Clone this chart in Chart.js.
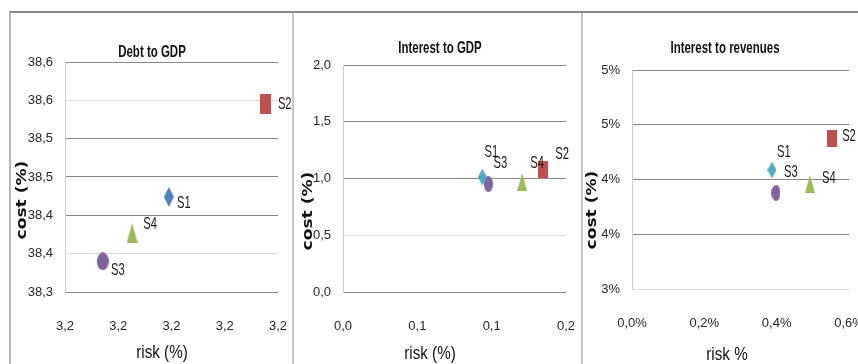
<!DOCTYPE html>
<html>
<head>
<meta charset="utf-8">
<script src="https://cdn.jsdelivr.net/npm/chart.js@4.4.1/dist/chart.umd.min.js"></script>
<style>
html, body { margin: 0; padding: 0; background: #fff; width: 858px; height: 364px; overflow: hidden; }
#frame { position: absolute; left: 9px; top: 11px; width: 900px; height: 400px; border-top: 2px solid #8a8a8a; border-left: 2px solid #b8b8b8; }
.sep { position: absolute; top: 13px; width: 2px; height: 360px; background: #c6c6c6; }
canvas { position: absolute; }
</style>
</head>
<body>
<div id="frame"></div>
<div class="sep" style="left:292px"></div>
<div class="sep" style="left:581px"></div>
<canvas id="debtChart" width="312" height="350" style="left:11px;top:14px"></canvas>
<canvas id="intGdpChart" width="317" height="350" style="left:294px;top:14px"></canvas>
<canvas id="intRevChart" width="320" height="350" style="left:579px;top:14px"></canvas>
<script>
const seriesNames = ['S1', 'S2', 'S3', 'S4'];

// Debt to GDP
const debtRisk = [3.2195, 3.2377, 3.2071, 3.2126];
const debtCost = [38.424, 38.545, 38.340, 38.377];
const debtXTicks = ['3,2', '3,2', '3,2', '3,2', '3,2'];
const debtYTicks = ['38,3', '38,4', '38,4', '38,5', '38,5', '38,6', '38,6'];

// Interest to GDP
const intGdpRisk = [0.1125, 0.1615, 0.1173, 0.1446];
const intGdpCost = [1.013, 1.075, 0.951, 0.969];
const intGdpXTicks = ['0,0', '0,1', '0,1', '0,2'];
const intGdpYTicks = ['0,0', '0,5', '1,0', '1,5', '2,0'];

// Interest to revenues
const intRevRisk = [0.00387, 0.00553, 0.00398, 0.00492];
const intRevCost = [0.04087, 0.0437, 0.03877, 0.03959];
const intRevXTicks = ['0,0%', '0,2%', '0,4%', '0,6%'];
const intRevYTicks = ['3%', '4%', '4%', '5%', '5%'];

const SANS = "'Liberation Sans', Arial, sans-serif";
Chart.defaults.font.family = SANS;
Chart.defaults.color = '#262626';

// stretched markers like the original picture
function marker(shape, color, w, h) {
    const c = document.createElement('canvas');
    c.width = w; c.height = h;
    const g = c.getContext('2d');
    g.fillStyle = color;
    g.beginPath();
    if (shape === 'diamond') {
        g.moveTo(w / 2, 0); g.lineTo(w, h / 2); g.lineTo(w / 2, h); g.lineTo(0, h / 2);
    } else if (shape === 'rect') {
        g.rect(0, 0, w, h);
    } else if (shape === 'tri') {
        g.moveTo(w / 2, 0); g.lineTo(w, h); g.lineTo(0, h);
    } else {
        g.ellipse(w / 2, h / 2, w / 2, h / 2, 0, 0, Math.PI * 2);
    }
    g.closePath();
    g.fill();
    return c;
}

const bigMarkers = [
    marker('diamond', '#4f81bd', 10, 20),
    marker('rect', '#c0504d', 11, 20),
    marker('circle', '#8064a2', 12, 18),
    marker('tri', '#9bbb59', 11, 20)
];
const smallMarkers = [
    marker('diamond', '#4bacc6', 9, 17),
    marker('rect', '#c0504d', 10, 17),
    marker('circle', '#8064a2', 9, 16),
    marker('tri', '#9bbb59', 10, 18)
];

// text squeezed sideways, the source picture is stretched vertically
function squeezedText(ctx, text, x, y, font, sx, sy, rotate) {
    ctx.save();
    ctx.translate(x, y);
    if (rotate) ctx.rotate(-Math.PI / 2);
    ctx.scale(sx, sy);
    ctx.font = font;
    ctx.textAlign = 'center';
    ctx.textBaseline = 'middle';
    ctx.fillText(text, 0, 0);
    ctx.restore();
}

const pointLabels = {
    id: 'pointLabels',
    afterDatasetsDraw(chart, args, opts) {
        const ctx = chart.ctx;
        ctx.save();
        ctx.fillStyle = '#1a1a1a';
        chart.data.datasets.forEach((ds, i) => {
            const el = chart.getDatasetMeta(i).data[0];
            const off = opts.offsets[i];
            squeezedText(ctx, ds.label, el.x + off[0] + 7, el.y + off[1], '14px ' + SANS, 0.8, 1.2, false);
        });
        ctx.restore();
    }
};

const panelText = {
    id: 'panelText',
    afterDraw(chart, args, opts) {
        const ctx = chart.ctx;
        ctx.save();
        ctx.fillStyle = '#111';
        squeezedText(ctx, opts.title, opts.titlePos[0], opts.titlePos[1], 'bold 14px ' + SANS, 0.82, 1.2, false);
        squeezedText(ctx, opts.xTitle, opts.xTitlePos[0], opts.xTitlePos[1], '16px ' + SANS, 0.95, 1.1, false);
        squeezedText(ctx, 'cost (%)', opts.yTitlePos[0], opts.yTitlePos[1], "bold 14px 'DejaVu Sans', Verdana, sans-serif", 1.22, 1, true);
        ctx.restore();
    }
};

function makeChart(id, cfg) {
    const datasets = seriesNames.map((name, i) => ({
        label: name,
        data: [{ x: cfg.risk[i], y: cfg.cost[i] }],
        pointStyle: cfg.markers[i],
        pointRadius: 6,
        pointHoverRadius: 6
    }));
    return new Chart(document.getElementById(id), {
        type: 'scatter',
        data: { datasets: datasets },
        plugins: [pointLabels, panelText],
        options: {
            responsive: false,
            animation: false,
            devicePixelRatio: 1,
            layout: { padding: { top: cfg.top, right: cfg.right, left: 0, bottom: 0 } },
            plugins: {
                legend: { display: false },
                tooltip: { enabled: false },
                title: { display: false },
                pointLabels: { offsets: cfg.labelOffsets },
                panelText: cfg.text
            },
            scales: {
                x: {
                    min: cfg.xRange[0], max: cfg.xRange[1],
                    grid: { display: false, drawTicks: false },
                    border: { display: false },
                    ticks: {
                        stepSize: cfg.xRange[2],
                        padding: 27,
                        font: { size: 13 },
                        callback: (v, i) => cfg.xTicks[i]
                    },
                    afterFit: (axis) => { axis.height = cfg.xHeight; }
                },
                y: {
                    min: cfg.yRange[0], max: cfg.yRange[1],
                    grid: {
                        drawTicks: false,
                        color: (c) => cfg.lightGrid.includes(c.index) ? '#d9d9d9' : '#868686'
                    },
                    border: { display: true, color: '#d0d0d0' },
                    ticks: {
                        stepSize: cfg.yRange[2],
                        padding: 12,
                        font: { size: 13 },
                        callback: (v, i) => cfg.yTicks[i]
                    },
                    afterFit: (axis) => { axis.width = cfg.yWidth; }
                }
            }
        }
    });
}

makeChart('debtChart', {
    risk: debtRisk, cost: debtCost, markers: bigMarkers,
    xRange: [3.20, 3.24, 0.01], yRange: [38.30, 38.60, 0.05],
    xTicks: debtXTicks, yTicks: debtYTicks,
    text: { title: 'Debt to GDP', titlePos: [141, 38], xTitle: 'risk (%)', xTitlePos: [151, 339], yTitlePos: [11, 186] },
    top: 48, right: 45, yWidth: 54, xHeight: 72,
    lightGrid: [1, 5],
    labelOffsets: [[8, 6], [12, 0], [8, 9], [11, -9]]
});

makeChart('intGdpChart', {
    risk: intGdpRisk, cost: intGdpCost, markers: smallMarkers,
    xRange: [0, 0.18, 0.06], yRange: [0, 2, 0.5],
    xTicks: intGdpXTicks, yTicks: intGdpYTicks,
    text: { title: 'Interest to GDP', titlePos: [146, 34], xTitle: 'risk (%)', xTitlePos: [136, 340], yTitlePos: [14, 197] },
    top: 51, right: 45, yWidth: 49, xHeight: 72,
    lightGrid: [1],
    labelOffsets: [[2, -25], [12, -16], [5, -21], [8, -19]]
});

makeChart('intRevChart', {
    risk: intRevRisk, cost: intRevCost, markers: smallMarkers,
    xRange: [0, 0.006, 0.002], yRange: [0.03, 0.05, 0.005],
    xTicks: intRevXTicks, yTicks: intRevYTicks,
    text: { title: 'Interest to revenues', titlePos: [146, 34], xTitle: 'risk %', xTitlePos: [148, 341], yTitlePos: [13, 196] },
    top: 56, right: 50, yWidth: 53, xHeight: 75,
    lightGrid: [0],
    labelOffsets: [[5, -18], [10, -3], [8, -21], [12, -6]]
});
</script>
</body>
</html>
